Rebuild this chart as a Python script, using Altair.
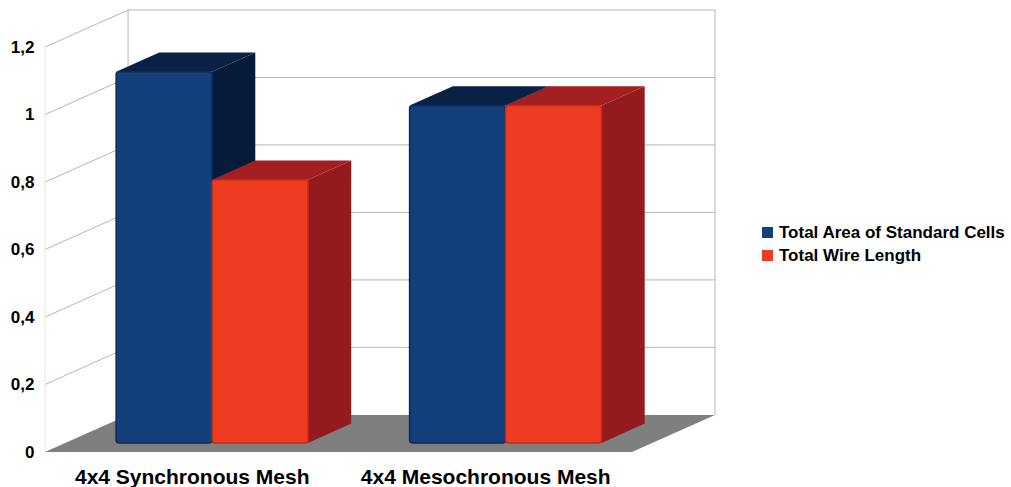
import altair as alt
import pandas as pd

# ---- chart values ----
CATEGORIES = ["4x4 Synchronous Mesh", "4x4 Mesochronous Mesh"]
SERIES = ["Total Area of Standard Cells", "Total Wire Length"]
AREA_VALUES = [1.1, 1.0]
WIRE_VALUES = [0.78, 1.0]
Y_TICKS = [0, 0.2, 0.4, 0.6, 0.8, 1.0, 1.2]

VALUES = [AREA_VALUES, WIRE_VALUES]

# ---- oblique 3D projection (depth axis expressed in data units) ----
DEPTH_X = 0.283      # horizontal shift of the back wall, in category units
DEPTH_Y = 0.11       # vertical shift of the back wall, in value units
Y_MAX = Y_TICKS[-1]
BAR_W = 0.327        # width of one bar, in category units
BAR_FRONT = 0.245    # depth fraction of the bar front face
BAR_BACK = 0.765     # depth fraction of the bar back face

FRONT_COLORS = ["#133F7A", "#EE3C22"]
EDGE_COLORS = ["#0B2B57", "#C42A19"]
TOP_COLORS = ["#0A2146", "#A31F22"]
SIDE_COLORS = ["#061B3A", "#931B1E"]
GRID_COLOR = "#B5B5B5"
FLOOR_COLOR = "#7F7F7F"
FONT = "Liberation Sans"

n_cat = len(CATEGORIES)
x_scale = alt.Scale(domain=[0, n_cat + DEPTH_X], nice=False, zero=False)
y_scale = alt.Scale(domain=[0, Y_MAX + DEPTH_Y], nice=False, zero=False)

# ---- bar faces ----
fx, fy = BAR_FRONT * DEPTH_X, BAR_FRONT * DEPTH_Y
dx, dy = (BAR_BACK - BAR_FRONT) * DEPTH_X, (BAR_BACK - BAR_FRONT) * DEPTH_Y

front_rows, side_rows, top_rows = [], [], []
for i, cat in enumerate(CATEGORIES):
    for k, s in enumerate(SERIES):
        v = VALUES[k][i]
        bar_id = f"{i}-{k}"
        xl = i + 0.5 - BAR_W + k * BAR_W + fx
        xr = xl + BAR_W
        base, top = fy, v + fy
        front_rows.append({"bar": bar_id, "series": s, "category": cat,
                           "value": v, "x": xl, "x2": xr, "y": base, "y2": top})
        side_rows += [
            {"bar": bar_id, "series": s, "x": xr, "y": base, "y2": top},
            {"bar": bar_id, "series": s, "x": xr + dx, "y": base + dy, "y2": top + dy},
        ]
        top_rows += [
            {"bar": bar_id, "series": s, "y": top, "x": xl, "x2": xr},
            {"bar": bar_id, "series": s, "y": top + dy, "x": xl + dx, "x2": xr + dx},
        ]

front_df = pd.DataFrame(front_rows)
side_df = pd.DataFrame(side_rows)
top_df = pd.DataFrame(top_rows)

# ---- walls and floor ----
grid_rows = []
for v in Y_TICKS[1:]:
    # left wall
    grid_rows.append({"x": 0, "y": v, "x2": DEPTH_X, "y2": v + DEPTH_Y})
    # back wall
    grid_rows.append({"x": DEPTH_X, "y": v + DEPTH_Y, "x2": n_cat + DEPTH_X, "y2": v + DEPTH_Y})
for xe in (DEPTH_X, n_cat + DEPTH_X):
    grid_rows.append({"x": xe, "y": DEPTH_Y, "x2": xe, "y2": Y_MAX + DEPTH_Y})
grid_df = pd.DataFrame(grid_rows)

front_edge_df = pd.DataFrame([{"x": 0, "y": 0, "x2": 0, "y2": Y_MAX}])

floor_df = pd.DataFrame([
    {"y": 0, "x": 0, "x2": n_cat},
    {"y": DEPTH_Y, "x": DEPTH_X, "x2": n_cat + DEPTH_X},
])

cat_expr = "[" + ",".join(f"'{c}'" for c in CATEGORIES) + "][floor(datum.value)]"

# shared axis definitions (identical in every layer so they merge cleanly)
x_axis = alt.Axis(values=[i + 0.5 for i in range(n_cat)], labelExpr=cat_expr,
                  ticks=False, domain=False, grid=False, title=None,
                  labelPadding=14, labelFontSize=21, labelFontWeight="bold",
                  labelFont=FONT, labelColor="#000000", labelFlush=False,
                  labelOverlap=False, labelLimit=0)
y_axis = alt.Axis(values=Y_TICKS, format="~g",
                  labelExpr="replace(datum.label, '.', ',')",
                  ticks=False, domain=False, grid=False, title=None,
                  labelPadding=11, labelFontSize=17, labelFontWeight="bold",
                  labelFont=FONT, labelColor="#000000", labelFlush=False,
                  minExtent=40, maxExtent=40)


def X(field, **kw):
    return alt.X(field, scale=x_scale, axis=x_axis, **kw)


def Y(field, **kw):
    return alt.Y(field, scale=y_scale, axis=y_axis, **kw)


walls = alt.Chart(grid_df).mark_rule(color=GRID_COLOR, strokeWidth=1).encode(
    x=X("x:Q"), x2="x2:Q", y=Y("y:Q"), y2="y2:Q",
)

front_edge = alt.Chart(front_edge_df).mark_rule(color="#E6E6E6", strokeWidth=1).encode(
    x=X("x:Q"), x2="x2:Q", y=Y("y:Q"), y2="y2:Q",
)

floor = alt.Chart(floor_df).mark_area(orient="horizontal", color=FLOOR_COLOR).encode(
    y=Y("y:Q"), x=X("x:Q", stack=None), x2="x2:Q",
)

sides = alt.Chart(side_df).mark_area(interpolate="linear").encode(
    x=X("x:Q"),
    y=Y("y:Q", stack=None),
    y2="y2:Q",
    detail="bar:N",
    color=alt.Color("series:N", scale=alt.Scale(domain=SERIES, range=SIDE_COLORS), legend=None),
)

tops = alt.Chart(top_df).mark_area(orient="horizontal", interpolate="linear").encode(
    y=Y("y:Q"),
    x=X("x:Q", stack=None),
    x2="x2:Q",
    detail="bar:N",
    color=alt.Color("series:N", scale=alt.Scale(domain=SERIES, range=TOP_COLORS), legend=None),
)

fronts = alt.Chart(front_df).mark_rect(cornerRadius=3, strokeWidth=1.5).encode(
    x=X("x:Q"),
    x2="x2:Q",
    y=Y("y:Q"),
    y2="y2:Q",
    color=alt.Color(
        "series:N",
        scale=alt.Scale(domain=SERIES, range=FRONT_COLORS),
        legend=alt.Legend(
            title=None, orient="none", legendX=714, legendY=214,
            direction="vertical", symbolType="square", symbolSize=121,
            symbolStrokeWidth=0, labelFontSize=17, labelFontWeight="bold",
            labelFont=FONT, labelColor="#000000", labelLimit=400,
            labelOffset=3, rowPadding=5, padding=0,
        ),
    ),
    stroke=alt.Stroke("series:N", scale=alt.Scale(domain=SERIES, range=EDGE_COLORS), legend=None),
    tooltip=["category:N", "series:N", "value:Q"],
)

chart = (
    alt.layer(walls, front_edge, floor, sides, tops, fronts)
    .resolve_scale(color="independent")
    .properties(width=670, height=442,
                padding={"left": 5, "top": 9, "right": 0, "bottom": 0})
    .configure_view(stroke=None)
)

chart.save("out.html", embed_options={"renderer": "svg", "actions": False})
